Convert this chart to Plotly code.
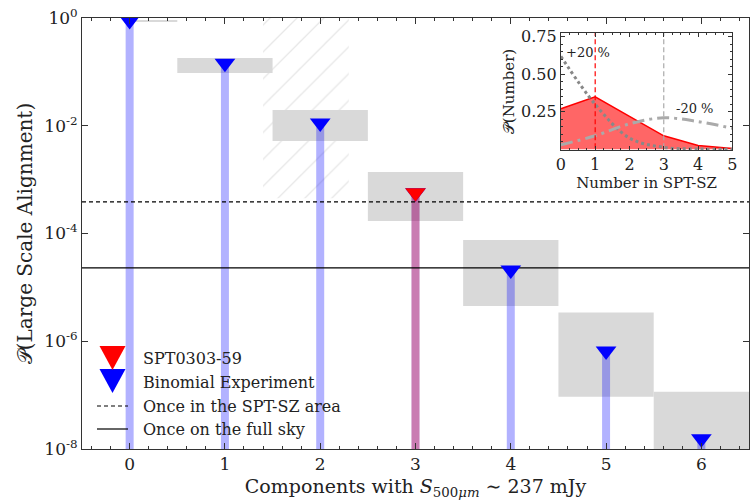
import plotly.graph_objects as go

# Components per alignment and their probabilities
components = [0, 1, 2, 3, 4, 5, 6]
p_binomial = [0.9, 0.145, 0.0112, 5.7e-4, 2.1e-5, 6.6e-7, 1.55e-8]
spt_component = [3]
p_spt = [5.7e-4]

# Uncertainty bands around each probability
band_left = [0.0, 0.5, 1.5, 2.5, 3.5, 4.5, 5.5]
band_right = [0.5, 1.5, 2.5, 3.5, 4.5, 5.5, 6.5]
band_low = [0.843, 0.095, 0.0052, 1.71e-4, 4.5e-6, 9.3e-8, 1e-9]
band_high = [0.918, 0.181, 0.0196, 1.39e-3, 7.6e-5, 3.4e-6, 1.15e-7]

# Excluded region
hatch_x = [1.4, 2.3]
hatch_y = [4.5e-4, 2.0]

# Reference levels
once_spt_area = 3.86e-4
once_full_sky = 2.3e-5

# Inset: distribution of the number of sources in SPT-SZ
n_spt = [0, 1, 2, 3, 4, 5]
p_number = [0.27, 0.35, 0.22, 0.09, 0.025, 0.006]
p_plus20 = [0.62, 0.30, 0.075, 0.013, 0.002, 0.0]
p_minus20 = [0.03, 0.09, 0.17, 0.21, 0.185, 0.14]

# Legend entries
legend_labels = ["SPT0303-59", "Binomial Experiment",
                 "Once in the SPT-SZ area", "Once on the full sky"]

y_floor = 1e-9
serif = "DejaVu Serif"
ink = "#222222"

fig = go.Figure()

# hatched excluded region
fig.add_trace(go.Scatter(
    x=[hatch_x[0], hatch_x[1], hatch_x[1], hatch_x[0], hatch_x[0]],
    y=[hatch_y[0], hatch_y[0], hatch_y[1], hatch_y[1], hatch_y[0]],
    mode="lines", line=dict(width=0), fill="toself",
    fillcolor="rgba(0,0,0,0)",
    fillpattern=dict(shape="/", fgcolor="#d0d0d0", bgcolor="rgba(0,0,0,0)",
                     size=19, solidity=0.07),
    showlegend=False, hoverinfo="skip"))

# grey bands
for x0, x1, lo, hi in zip(band_left, band_right, band_low, band_high):
    fig.add_trace(go.Scatter(
        x=[x0, x1, x1, x0, x0], y=[lo, lo, hi, hi, lo],
        mode="lines", line=dict(width=0), fill="toself",
        fillcolor="#d9d9d9", showlegend=False, hoverinfo="skip"))

# stems
for c, p in zip(components, p_binomial):
    fig.add_trace(go.Scatter(
        x=[c, c], y=[y_floor, p], mode="lines",
        line=dict(color="rgba(0,0,255,0.3)", width=8),
        showlegend=False, hoverinfo="skip"))
for c, p in zip(spt_component, p_spt):
    fig.add_trace(go.Scatter(
        x=[c, c], y=[y_floor, p], mode="lines",
        line=dict(color="rgba(255,0,0,0.3)", width=8),
        showlegend=False, hoverinfo="skip"))

# reference levels
fig.add_trace(go.Scatter(
    x=[-0.5, 6.5], y=[once_spt_area, once_spt_area], mode="lines",
    line=dict(color="black", width=1.2, dash="4px,3px"),
    showlegend=False, hoverinfo="skip"))
fig.add_trace(go.Scatter(
    x=[-0.5, 6.5], y=[once_full_sky, once_full_sky], mode="lines",
    line=dict(color="black", width=1.2),
    showlegend=False, hoverinfo="skip"))

# markers
fig.add_trace(go.Scatter(
    x=components, y=p_binomial, mode="markers",
    marker=dict(symbol="triangle-down", size=18, color="blue"),
    showlegend=False, hoverinfo="skip"))
fig.add_trace(go.Scatter(
    x=spt_component, y=p_spt, mode="markers",
    marker=dict(symbol="triangle-down", size=18, color="red"),
    showlegend=False, hoverinfo="skip"))

# legend, drawn on an overlay measured in plot-area pixels
leg_x0, leg_x1 = 15, 46          # symbol column
leg_text_x = 59
leg_row_y = [340, 364, 388, 411]
tri_half, tri_h = 13, 24

# legend line samples
fig.add_trace(go.Scatter(
    x=[leg_x0, leg_x1], y=[leg_row_y[2]] * 2, mode="lines",
    line=dict(color="black", width=1.2, dash="4px,3px"),
    xaxis="x3", yaxis="y3", showlegend=False, hoverinfo="skip"))
fig.add_trace(go.Scatter(
    x=[leg_x0, leg_x1], y=[leg_row_y[3]] * 2, mode="lines",
    line=dict(color="black", width=1.2),
    xaxis="x3", yaxis="y3", showlegend=False, hoverinfo="skip"))

# inset traces
fig.add_trace(go.Scatter(
    x=n_spt, y=p_number, mode="lines", fill="tozeroy",
    fillcolor="rgba(255,0,0,0.6)", line=dict(color="red", width=1.5),
    xaxis="x2", yaxis="y2", showlegend=False, hoverinfo="skip"))
fig.add_trace(go.Scatter(
    x=n_spt, y=p_plus20, mode="lines", line_shape="spline",
    line=dict(color="#888888", width=3, dash="dot"),
    xaxis="x2", yaxis="y2", showlegend=False, hoverinfo="skip"))
fig.add_trace(go.Scatter(
    x=n_spt, y=p_minus20, mode="lines", line_shape="spline",
    line=dict(color="#aaaaaa", width=3, dash="12px,5px,3px,5px"),
    xaxis="x2", yaxis="y2", showlegend=False, hoverinfo="skip"))
fig.add_trace(go.Scatter(
    x=[1, 1], y=[-0.1, 1], mode="lines",
    line=dict(color="red", width=1.2, dash="5px,3px"),
    xaxis="x2", yaxis="y2", showlegend=False, hoverinfo="skip"))
fig.add_trace(go.Scatter(
    x=[3, 3], y=[-0.1, 1], mode="lines",
    line=dict(color="#aaaaaa", width=1.2, dash="5px,3px"),
    xaxis="x2", yaxis="y2", showlegend=False, hoverinfo="skip"))


def legend_triangle(cx, top, color):
    path = (f"M {cx - tri_half},{top} L {cx + tri_half},{top} "
            f"L {cx},{top + tri_h} Z")
    return dict(type="path", path=path, xref="x3", yref="y3",
                fillcolor=color, line=dict(width=0), layer="above")


leg_cx = (leg_x0 + leg_x1) / 2
shapes = [
    legend_triangle(leg_cx, leg_row_y[1] - 13, "blue"),
    legend_triangle(leg_cx, leg_row_y[0] - 12, "red"),
]

annotations = [
    dict(text="+20 %", x=0.08, y=0.645, xref="x2", yref="y2",
         xanchor="left", showarrow=False,
         font=dict(size=13, family=serif, color=ink)),
    dict(text="-20 %", x=3.9, y=0.27, xref="x2", yref="y2",
         xanchor="center", showarrow=False,
         font=dict(size=13, family=serif, color=ink)),
]
for label, ry in zip(legend_labels, leg_row_y):
    annotations.append(dict(
        text=label, x=leg_text_x, y=ry, xref="x3", yref="y3",
        xanchor="left", yanchor="middle", showarrow=False,
        font=dict(size=16, family=serif, color=ink)))

decades = [0, -2, -4, -6, -8]
fig.update_layout(
    width=751, height=501,
    margin=dict(l=82, r=2, t=18, b=52),
    paper_bgcolor="white", plot_bgcolor="white",
    font=dict(family=serif, color=ink, size=16),
    showlegend=False,
    xaxis=dict(
        range=[-0.5, 6.5], tickvals=components, automargin=False,
        ticks="inside", ticklen=6, tickcolor="#333", showgrid=False,
        zeroline=False, showline=True, linecolor="#333", linewidth=1,
        mirror="ticks", tickfont=dict(size=17, family=serif),
        minor=dict(dtick=0.2, ticks="inside", ticklen=3, tickcolor="#333"),
        title=dict(text="Components with <i>S</i><sub>500<i>μm</i></sub> ∼ 237 mJy",
                   font=dict(size=19, family=serif), standoff=6),
    ),
    yaxis=dict(
        type="log", range=[-8, 0], automargin=False,
        tickvals=[10.0 ** d for d in decades],
        ticktext=[f"10<sup>{d}</sup>" for d in decades],
        ticks="inside", ticklen=6, tickcolor="#333", showgrid=False,
        zeroline=False, showline=True, linecolor="#333", linewidth=1,
        mirror="ticks", tickfont=dict(size=17, family=serif),
        title=dict(text="𝒫(Large Scale Alignment)",
                   font=dict(size=20, family=serif), standoff=6),
    ),
    xaxis2=dict(
        domain=[0.718, 0.975], anchor="y2", range=[0, 5], automargin=False,
        tickvals=n_spt, ticks="inside", ticklen=4, tickcolor="#333",
        showgrid=False, zeroline=False, showline=True, linecolor="#333",
        linewidth=1, mirror="ticks", tickfont=dict(size=16, family=serif),
        minor=dict(dtick=0.25, ticks="inside", ticklen=2, tickcolor="#333"),
        title=dict(text="Number in SPT-SZ", font=dict(size=15, family=serif),
                   standoff=2),
    ),
    yaxis2=dict(
        domain=[0.694, 0.965], anchor="x2", range=[-0.004, 0.775],
        automargin=False,
        tickvals=[0.25, 0.5, 0.75], ticktext=["0.25", "0.50", "0.75"],
        ticks="inside", ticklen=4, tickcolor="#333", showgrid=False,
        zeroline=False, showline=True, linecolor="#333", linewidth=1,
        mirror="ticks", tickfont=dict(size=16, family=serif),
        minor=dict(dtick=0.05, ticks="inside", ticklen=2, tickcolor="#333"),
        title=dict(text="𝒫(Number)", font=dict(size=15, family=serif),
                   standoff=2),
    ),
    xaxis3=dict(overlaying="x", range=[0, 667], visible=False,
                automargin=False),
    yaxis3=dict(overlaying="y", range=[431, 0], visible=False,
                automargin=False),
    shapes=shapes,
    annotations=annotations,
)

fig.write_html("out.html")
